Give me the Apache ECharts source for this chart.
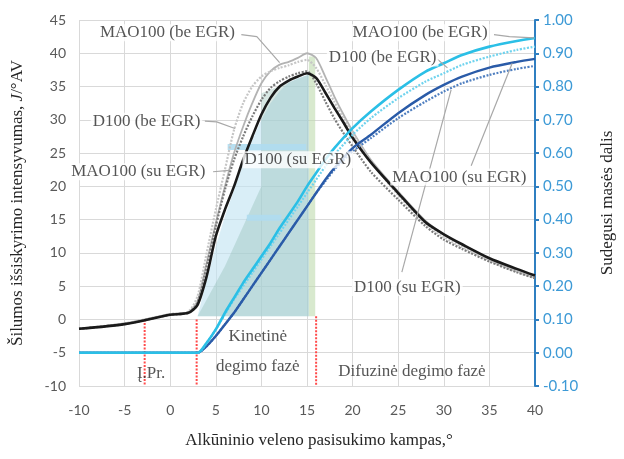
<!DOCTYPE html>
<html>
<head>
<meta charset="utf-8">
<script src="https://cdn.jsdelivr.net/npm/echarts@6/dist/echarts.min.js"></script>
<style>
  html, body { margin: 0; padding: 0; background: #ffffff; }
  #chart { width: 624px; height: 459px; }
</style>
</head>
<body>
<div id="chart"></div>
<script>
// Crank angle grid for the heat release curves, °CA
const hrAngle = [-10, -5, 0, 2, 3, 4, 5, 6, 7, 8, 9, 10, 11, 12, 13, 14, 15, 16, 17, 18, 19, 20, 22, 25, 28, 30, 32, 35, 38, 40];
// Heat release rate, J/°CA
const hrD100Egr  = [-1.4, -0.7, 0.7, 1.0, 2.2, 6.5, 12.5, 16.5, 20.0, 24.0, 27.5, 30.8, 33.3, 35.0, 35.9, 36.5, 37.0, 36.3, 34.1, 31.8, 29.6, 27.3, 23.6, 19.0, 14.6, 12.8, 11.3, 9.2, 7.6, 6.6];
const hrMao      = [-1.4, -0.6, 0.8, 1.1, 2.8, 8.5, 14.5, 20.0, 25.0, 29.0, 32.5, 35.5, 37.3, 38.3, 38.7, 39.3, 40.0, 39.3, 36.5, 33.5, 30.8, 28.3, 24.0, 19.2, 14.8, 12.8, 11.2, 9.1, 7.4, 6.5];
const hrD100     = [-1.4, -0.6, 0.8, 1.2, 3.5, 10.0, 16.5, 22.5, 28.5, 32.5, 35.0, 36.5, 37.3, 37.8, 38.2, 38.7, 39.0, 37.8, 35.3, 32.7, 30.2, 28.0, 23.8, 18.7, 14.4, 12.4, 10.9, 8.9, 7.2, 6.3];
const hrMaoEgr   = [-1.4, -0.7, 0.7, 1.0, 2.5, 8.0, 14.0, 19.5, 24.0, 27.5, 30.5, 33.0, 34.8, 35.8, 36.5, 37.0, 37.3, 35.5, 32.8, 30.2, 28.0, 26.0, 22.2, 18.0, 14.0, 12.0, 10.6, 8.7, 7.1, 6.2];

// Crank angle grid for the mass fraction burned curves, °CA
const mfbAngle = [-10, 3, 4, 5, 6, 7, 8, 9, 10, 11, 12, 13, 14, 15, 16, 17, 18, 20, 22, 25, 28, 30, 32, 35, 38, 40];
const mfbMao     = [0, 0, 0.03, 0.07, 0.12, 0.165, 0.21, 0.25, 0.29, 0.33, 0.375, 0.415, 0.455, 0.50, 0.54, 0.58, 0.615, 0.675, 0.725, 0.79, 0.845, 0.87, 0.895, 0.92, 0.937, 0.946];
const mfbD100    = [0, 0, 0.03, 0.07, 0.115, 0.16, 0.20, 0.24, 0.28, 0.32, 0.36, 0.40, 0.44, 0.48, 0.52, 0.56, 0.595, 0.655, 0.705, 0.765, 0.815, 0.84, 0.865, 0.89, 0.91, 0.92];
const mfbMaoEgr  = [0, 0, 0.02, 0.05, 0.085, 0.12, 0.16, 0.20, 0.24, 0.28, 0.32, 0.36, 0.40, 0.44, 0.48, 0.52, 0.555, 0.615, 0.655, 0.72, 0.775, 0.805, 0.83, 0.857, 0.874, 0.883];
const mfbD100Egr = [0, 0, 0.02, 0.05, 0.085, 0.12, 0.16, 0.20, 0.24, 0.28, 0.32, 0.36, 0.40, 0.44, 0.48, 0.515, 0.55, 0.605, 0.645, 0.705, 0.755, 0.785, 0.81, 0.835, 0.853, 0.862];

// Kinetic combustion phase highlight (°CA, J/°CA)
const shadeBase  = 0.5;
const shadeAngle = [3, 4, 5, 6, 7, 8, 9, 10, 11, 12, 13, 14, 15.2];
const shadeTop   = [0.5, 6, 11, 15.5, 19.5, 23.5, 27, 30, 32.5, 34.3, 35.6, 36.3, 36.8];
const tealAngle  = [3, 6, 10, 10, 15.2];
const tealTop    = [0.5, 8, 20, 34, 36.8];
const greenAngle = [15.2, 15.9];
const greenTop   = [39.5, 39.5];
// Light blue arrow bands inside the highlight
const bandAngle  = [[6.3, 14.9], [8.4, 12.2]];
const bandLevel  = [25.9, 15.3];

// Phase boundaries: ignition start, start of combustion, end of kinetic phase
const phaseAngle = [-2.8, 2.9, 16.0];
const phaseTop   = [0, 0, 0.5];

// Curve labels: text, angle, heat-release-axis value
const labelText  = ['MAO100 (be EGR)', 'D100 (be EGR)', 'MAO100 (su EGR)', 'D100 (su EGR)',
                    'MAO100 (be EGR)', 'D100 (be EGR)', 'MAO100 (su EGR)', 'D100 (su EGR)'];
const labelAngle = [-0.3, -2.6, -3.5, 14.0, 27.4, 23.3, 31.7, 26.0];
const labelValue = [43.1, 29.8, 22.2, 24.0, 43.1, 39.3, 21.4, 4.8];

// Leader lines from labels to curves
const leaderAngle = [[7.8, 9.5, 12.0], [3.8, 5.1, 7.1], [4.7, 6.5], [35.5, 37.2, 39.9], [29.3, 30.4], [33.0, 37.5], [25.4, 30.8]];
const leaderValue = [[42.8, 42.5, 38.6], [29.8, 29.7, 28.7], [22.2, 22.4], [42.8, 42.5, 42.3], [39.1, 37.8], [23.1, 38.5], [7.1, 34.5]];

// Phase names
const phaseText  = ['Į.Pr.', 'Kinetinė', 'degimo fazė', 'Difuzinė degimo fazė'];
const phaseTxtX  = [-2.1, 9.6, 9.6, 26.5];
const phaseTxtY  = [-8.2, -2.6, -7.1, -7.9];

const pairs = (xs, ys) => xs.map((x, i) => [x, ys[i]]);
const serif = 'Liberation Serif';
const sans = 'Lato';

const series = [];

// Highlight areas
series.push({
  type: 'line', data: pairs(shadeAngle, shadeTop), yAxisIndex: 0, symbol: 'none',
  lineStyle: { width: 0 }, areaStyle: { origin: shadeBase, color: 'rgba(195,228,242,0.9)' },
  z: 1, silent: true
});
series.push({
  type: 'line', data: pairs(tealAngle, tealTop), yAxisIndex: 0, symbol: 'none',
  lineStyle: { width: 0 }, areaStyle: { origin: shadeBase, color: 'rgba(130,178,166,0.45)' },
  z: 1, silent: true
});
series.push({
  type: 'line', data: pairs(greenAngle, greenTop), yAxisIndex: 0, symbol: 'none',
  lineStyle: { width: 0 }, areaStyle: { origin: shadeBase, color: 'rgba(190,218,172,0.85)' },
  z: 1, silent: true
});
bandAngle.forEach((xs, i) => {
  series.push({
    type: 'line', data: xs.map(x => [x, bandLevel[i]]), yAxisIndex: 0, symbol: 'none',
    lineStyle: { color: 'rgba(175,220,240,0.9)', width: 6, cap: 'butt' }, z: 2, silent: true
  });
});

// Phase boundary markers
phaseAngle.forEach((a, i) => {
  series.push({
    type: 'line', data: [[a, phaseTop[i]], [a, -10]], yAxisIndex: 0, symbol: 'none',
    lineStyle: { color: '#ff4a4a', width: 2, type: [2, 1.5] }, z: 2, silent: true
  });
});

// Heat release curves
const hrCurve = (vals, color, width, type, z) => ({
  type: 'line', data: pairs(hrAngle, vals), yAxisIndex: 0, symbol: 'none', smooth: 0.25,
  lineStyle: { color, width, type }, z, silent: true
});
series.push(hrCurve(hrMao, '#b3b3b3', 1.8, 'solid', 3));
series.push(hrCurve(hrD100, '#c6c6c6', 2.2, [2, 1.5], 3));
series.push(hrCurve(hrMaoEgr, '#7a7a7a', 2.2, [2, 1.5], 4));
series.push(hrCurve(hrD100Egr, '#1a1a1a', 2.6, 'solid', 5));

// Mass fraction burned curves
const mfbCurve = (vals, color, width, type, z) => ({
  type: 'line', data: pairs(mfbAngle, vals), yAxisIndex: 1, symbol: 'none', smooth: 0.25,
  lineStyle: { color, width, type }, z, silent: true
});
series.push(mfbCurve(mfbD100Egr, '#4f7fc0', 2.2, [2, 1.5], 6));
series.push(mfbCurve(mfbMaoEgr, '#2a5ba8', 2.4, 'solid', 6));
series.push(mfbCurve(mfbD100, '#6fd3ee', 2.2, [2, 1.5], 6));
series.push(mfbCurve(mfbMao, '#2bbfe6', 2.6, 'solid', 7));

// Leader lines
leaderAngle.forEach((xs, i) => {
  series.push({
    type: 'line', data: pairs(xs, leaderValue[i]), yAxisIndex: 0, symbol: 'none',
    lineStyle: { color: '#a8a8a8', width: 1.2 }, z: 8, silent: true
  });
});

// Curve labels
series.push({
  type: 'scatter', yAxisIndex: 0, symbolSize: 0, z: 10, silent: true,
  data: labelText.map((t, i) => ({ name: t, value: [labelAngle[i], labelValue[i]] })),
  label: {
    show: true, position: 'inside', formatter: p => p.name,
    fontFamily: serif, fontSize: 17, color: '#2b2b2b',
    backgroundColor: '#ffffff', padding: [0, 2]
  }
});

// Phase names
series.push({
  type: 'scatter', yAxisIndex: 0, symbolSize: 0, z: 10, silent: true,
  data: phaseText.map((t, i) => ({ name: t, value: [phaseTxtX[i], phaseTxtY[i]] })),
  label: {
    show: true, position: 'inside', formatter: p => p.name,
    fontFamily: serif, fontSize: 17, color: '#2b2b2b'
  }
});

const chart = echarts.init(document.getElementById('chart'), null, { renderer: 'canvas' });
chart.setOption({
  animation: false,
  backgroundColor: '#ffffff',
  grid: { left: 79, right: 88, top: 20, bottom: 73, containLabel: false },
  xAxis: {
    type: 'value', min: -10, max: 40, interval: 5,
    axisLine: { show: false }, axisTick: { show: false },
    axisLabel: { color: '#595959', fontFamily: sans, fontSize: 14, margin: 17 },
    splitLine: { show: true, lineStyle: { color: '#d9d9d9', width: 1 } },
    name: 'Alkūninio veleno pasisukimo kampas,°', nameLocation: 'middle', nameGap: 46,
    nameTextStyle: { fontFamily: serif, fontSize: 17, color: '#262626', padding: [0, 0, 0, 24] }
  },
  yAxis: [
    {
      type: 'value', min: -10, max: 45, interval: 5,
      axisLine: { show: false }, axisTick: { show: false },
      axisLabel: { color: '#595959', fontFamily: sans, fontSize: 14, margin: 13 },
      splitLine: { show: true, lineStyle: { color: '#d9d9d9', width: 1 } },
      name: 'Šilumos išsiskyrimo intensyvumas, {i|J}/°AV', nameLocation: 'middle', nameGap: 53,
      nameTextStyle: {
        fontFamily: serif, fontSize: 17, color: '#262626',
        rich: { i: { fontFamily: serif, fontSize: 17, fontStyle: 'italic', color: '#262626' } }
      }
    },
    {
      type: 'value', min: -0.1, max: 1.0, interval: 0.1, position: 'right',
      axisLine: { show: true, lineStyle: { color: '#2f7fc1', width: 2 } },
      axisTick: { show: true, length: 4, lineStyle: { color: '#2f7fc1', width: 2 } },
      axisLabel: { color: '#3d9ad6', fontFamily: sans, fontSize: 15, margin: 8, formatter: v => v.toFixed(2) },
      splitLine: { show: false },
      name: 'Sudegusi masės dalis', nameLocation: 'middle', nameGap: 64,
      nameTextStyle: { fontFamily: serif, fontSize: 17, color: '#262626' }
    }
  ],
  series
});
</script>
</body>
</html>
